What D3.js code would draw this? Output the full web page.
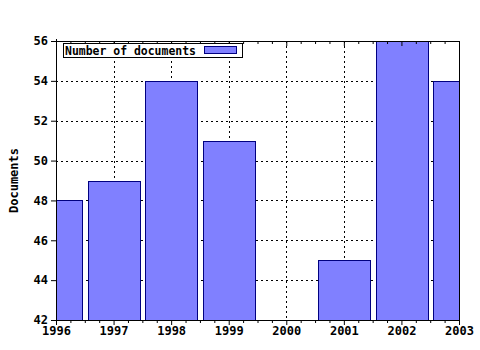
<!DOCTYPE html>
<html><head><meta charset="utf-8">
<script src="https://cdn.jsdelivr.net/npm/d3@7"></script>
<style>body{margin:0;background:#fff}svg{display:block}</style>
</head><body>
<script>
const years = [1996, 1997, 1998, 1999, 2000, 2001, 2002, 2003];
const documents = [48, 49, 54, 51, null, 45, 56, 54];
const yTicks = [42, 44, 46, 48, 50, 52, 54, 56];
const seriesName = "Number of documents";
const yTitle = "Documents";

const W = 480, H = 350;
const m = {l: 56, r: 21, t: 41, b: 30};
const svg = d3.select("body").append("svg").attr("width", W).attr("height", H);
const x = d3.scaleLinear().domain([1996, 2003]).range([m.l, W - m.r]);
const y = d3.scaleLinear().domain([42, 56]).range([H - m.b, m.t]);
const font = "'DejaVu Sans Mono', monospace";

svg.append("defs").append("clipPath").attr("id", "pc")
  .append("rect").attr("x", m.l).attr("y", m.t).attr("width", x(2003) - m.l).attr("height", y(42) - m.t);

// grid
const g = svg.append("g").attr("stroke", "#000").attr("stroke-dasharray", "2,3").attr("stroke-width", 1);
yTicks.slice(1, -1).forEach(v => g.append("line").attr("x1", m.l).attr("x2", x(2003)).attr("y1", Math.round(y(v)) + 0.5).attr("y2", Math.round(y(v)) + 0.5));
years.slice(1, -1).forEach(v => g.append("line").attr("y1", m.t).attr("y2", y(42)).attr("x1", Math.round(x(v)) + 0.5).attr("x2", Math.round(x(v)) + 0.5));

// bars
const bw = (x(1997) - x(1996)) * 0.9;
svg.append("g").attr("clip-path", "url(#pc)").selectAll("rect")
  .data(years.map((yr, i) => ({yr, v: documents[i]})).filter(d => d.v != null))
  .join("rect")
  .attr("x", d => Math.round(x(d.yr) - bw / 2) + 0.5)
  .attr("y", d => Math.round(y(d.v)) + 0.5)
  .attr("width", Math.round(bw))
  .attr("height", d => y(42) - Math.round(y(d.v)))
  .attr("fill", "#8080ff").attr("stroke", "#000080").attr("stroke-width", 1);

// axes
const xb = d3.axisBottom(x).tickValues(years).tickFormat(d3.format("d")).tickSize(5);
const xAxis = svg.append("g").attr("transform", `translate(0,${y(42)})`).call(xb);
const minor = d3.range(1996, 2003.001, 0.25).filter(v => Math.abs(v - Math.round(v)) > 0.01);
svg.append("g").attr("transform", `translate(0,${y(42)})`).call(d3.axisBottom(x).tickValues(minor).tickFormat("").tickSize(3)).select(".domain").remove();
svg.append("g").attr("transform", `translate(0,${m.t})`).call(d3.axisBottom(x).tickValues(years).tickFormat("").tickSize(5)).select(".domain").remove();
svg.append("g").attr("transform", `translate(0,${m.t})`).call(d3.axisBottom(x).tickValues(minor).tickFormat("").tickSize(3)).select(".domain").remove();
const yAxis = svg.append("g").attr("transform", `translate(${m.l},0)`).call(d3.axisLeft(y).tickValues(yTicks).tickSize(5));
svg.append("line").attr("x1", m.l).attr("x2", x(2003)).attr("y1", m.t + 0.5).attr("y2", m.t + 0.5).attr("stroke", "#000");
svg.append("line").attr("x1", x(2003) + 0.5).attr("x2", x(2003) + 0.5).attr("y1", m.t).attr("y2", y(42)).attr("stroke", "#000");

svg.selectAll(".domain").attr("stroke", "#000").attr("d", null);
svg.append("line").attr("x1", m.l + 0.5).attr("x2", m.l + 0.5).attr("y1", m.t - 2).attr("y2", y(42)).attr("stroke", "#000");
svg.append("line").attr("x1", m.l).attr("x2", x(2003) + 1).attr("y1", y(42) + 0.5).attr("y2", y(42) + 0.5).attr("stroke", "#000");

[xAxis, yAxis].forEach(a => a.selectAll("text").attr("font-family", font).attr("font-weight", "bold").attr("font-size", 12).attr("fill", "#000"));
xAxis.selectAll("text").attr("dy", "0.95em").attr("y", 4);
yAxis.selectAll("text").attr("x", -8);

// y title
svg.append("text").attr("transform", `translate(18,${(m.t + y(42)) / 2}) rotate(-90)`)
  .attr("text-anchor", "middle").attr("font-family", font).attr("font-weight", "bold").attr("font-size", 12).text(yTitle);

// legend
const lg = svg.append("g");
lg.append("rect").attr("x", 63.5).attr("y", 43.5).attr("width", 179).attr("height", 14).attr("fill", "#fff").attr("stroke", "#000");
lg.append("text").attr("x", 65).attr("y", 54.5).attr("font-family", font).attr("font-weight", "bold").attr("font-size", 12)
  .attr("textLength", 131).attr("lengthAdjust", "spacingAndGlyphs").text(seriesName);
lg.append("rect").attr("x", 204.5).attr("y", 46.5).attr("width", 32).attr("height", 7).attr("fill", "#8080ff").attr("stroke", "#000080");
</script>
</body></html>
